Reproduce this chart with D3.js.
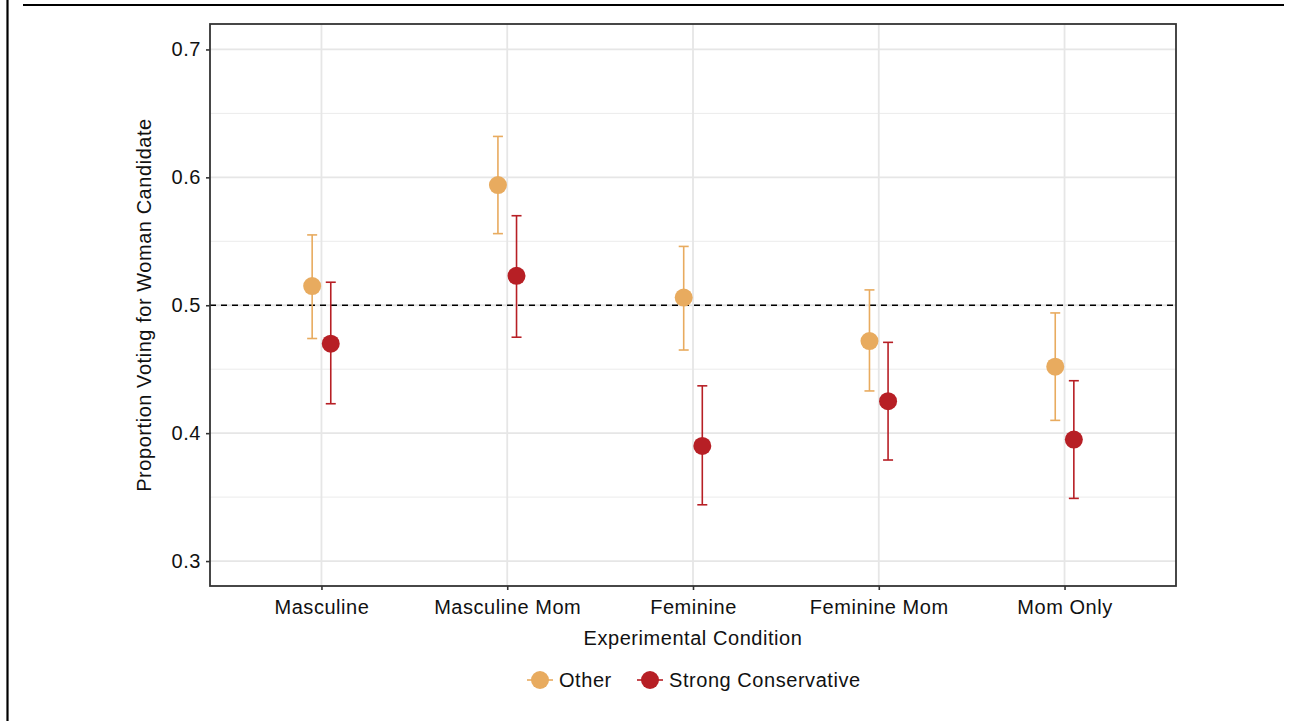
<!DOCTYPE html>
<html>
<head>
<meta charset="utf-8">
<script src="https://cdn.jsdelivr.net/npm/d3@7"></script>
<style>
  html, body { margin: 0; padding: 0; background: #fff; }
  svg { display: block; font-family: "Liberation Sans", Arial, Helvetica, sans-serif; }
  .lbl { font-size: 20px; letter-spacing: 0.55px; fill: #111; }
</style>
</head>
<body>
<svg id="chart" width="1297" height="721"></svg>
<script>
// Experimental conditions shown on the x axis
const conditions = ["Masculine", "Masculine Mom", "Feminine", "Feminine Mom", "Mom Only"];
const groups = ["Other", "Strong Conservative"];

// Proportion voting for the woman candidate, with 95% interval bounds
const otherEst   = [0.515, 0.594, 0.506, 0.472, 0.452];
const otherLow   = [0.474, 0.556, 0.465, 0.433, 0.410];
const otherHigh  = [0.555, 0.632, 0.546, 0.512, 0.494];
const consEst    = [0.470, 0.523, 0.390, 0.425, 0.395];
const consLow    = [0.423, 0.475, 0.344, 0.379, 0.349];
const consHigh   = [0.518, 0.570, 0.437, 0.471, 0.441];

const yTicks = [0.3, 0.4, 0.5, 0.6, 0.7];
const yMinor = [0.35, 0.45, 0.55, 0.65];
const refLine = 0.5;

const colors = { "Other": "#E8AB5F", "Strong Conservative": "#B71F25" };

const rows = [];
conditions.forEach((c, i) => {
  rows.push({ cond: c, group: "Other", est: otherEst[i], lo: otherLow[i], hi: otherHigh[i] });
  rows.push({ cond: c, group: "Strong Conservative", est: consEst[i], lo: consLow[i], hi: consHigh[i] });
});

const svg = d3.select("#chart");

// Outer frame lines
svg.append("line").attr("x1", 23).attr("x2", 1284).attr("y1", 5).attr("y2", 5)
  .attr("stroke", "#000").attr("stroke-width", 2.2);
svg.append("line").attr("x1", 7.5).attr("x2", 7.5).attr("y1", 0).attr("y2", 721)
  .attr("stroke", "#000").attr("stroke-width", 2.2);

const panel = { left: 210, top: 24, right: 1176, bottom: 586 };

// Discrete x scale with ggplot-style 0.6 padding on each side
const x = d3.scalePoint().domain(conditions)
  .range([panel.left, panel.right]).padding(0.6);
const y = d3.scaleLinear().domain([0.2805, 0.7199]).range([panel.bottom, panel.top]);
const dodge = d3.scalePoint().domain(groups).range([-9.3, 9.3]);

const g = svg.append("g");

// Grid
g.selectAll(".minor").data(yMinor).join("line")
  .attr("x1", panel.left).attr("x2", panel.right)
  .attr("y1", d => y(d)).attr("y2", d => y(d))
  .attr("stroke", "#ebebeb").attr("stroke-width", 1);
g.selectAll(".major").data(yTicks).join("line")
  .attr("x1", panel.left).attr("x2", panel.right)
  .attr("y1", d => y(d)).attr("y2", d => y(d))
  .attr("stroke", "#e6e6e6").attr("stroke-width", 1.8);
g.selectAll(".vgrid").data(conditions).join("line")
  .attr("x1", d => x(d)).attr("x2", d => x(d))
  .attr("y1", panel.top).attr("y2", panel.bottom)
  .attr("stroke", "#e6e6e6").attr("stroke-width", 1.8);

// Reference line at one half
g.append("line")
  .attr("x1", panel.left).attr("x2", panel.right)
  .attr("y1", y(refLine)).attr("y2", y(refLine))
  .attr("stroke", "#000").attr("stroke-width", 1.6)
  .attr("stroke-dasharray", "6,5");

// Error bars
const cap = 5;
const eb = g.selectAll(".eb").data(rows).join("g")
  .attr("stroke", d => colors[d.group]).attr("stroke-width", 1.6);
eb.append("line")
  .attr("x1", d => x(d.cond) + dodge(d.group)).attr("x2", d => x(d.cond) + dodge(d.group))
  .attr("y1", d => y(d.lo)).attr("y2", d => y(d.hi));
eb.append("line")
  .attr("x1", d => x(d.cond) + dodge(d.group) - cap).attr("x2", d => x(d.cond) + dodge(d.group) + cap)
  .attr("y1", d => y(d.lo)).attr("y2", d => y(d.lo));
eb.append("line")
  .attr("x1", d => x(d.cond) + dodge(d.group) - cap).attr("x2", d => x(d.cond) + dodge(d.group) + cap)
  .attr("y1", d => y(d.hi)).attr("y2", d => y(d.hi));

// Points
g.selectAll(".pt").data(rows).join("circle")
  .attr("cx", d => x(d.cond) + dodge(d.group))
  .attr("cy", d => y(d.est))
  .attr("r", 9)
  .attr("fill", d => colors[d.group]);

// Panel border
svg.append("rect")
  .attr("x", panel.left).attr("y", panel.top)
  .attr("width", panel.right - panel.left).attr("height", panel.bottom - panel.top)
  .attr("fill", "none").attr("stroke", "#333").attr("stroke-width", 1.8);

// Axes
const yAxis = svg.append("g").attr("transform", `translate(${panel.left},0)`)
  .call(d3.axisLeft(y).tickValues(yTicks).tickFormat(d3.format(".1f")).tickSize(4).tickPadding(5));
const xAxis = svg.append("g").attr("transform", `translate(0,${panel.bottom})`)
  .call(d3.axisBottom(x).tickSize(4).tickPadding(6));
[yAxis, xAxis].forEach(a => {
  a.select(".domain").remove();
  a.selectAll(".tick line").attr("stroke", "#333").attr("stroke-width", 1.6);
  a.selectAll(".tick text").attr("class", "lbl").attr("fill", null)
    .style("font-family", "'Liberation Sans', Arial, sans-serif");
});
xAxis.selectAll(".tick text").attr("dy", "0.9em");

// Axis titles
svg.append("text").attr("class", "lbl")
  .attr("x", (panel.left + panel.right) / 2).attr("y", 645)
  .attr("text-anchor", "middle")
  .text("Experimental Condition");
svg.append("text").attr("class", "lbl")
  .attr("transform", `translate(151,${(panel.top + panel.bottom) / 2}) rotate(-90)`)
  .attr("text-anchor", "middle")
  .text("Proportion Voting for Woman Candidate");

// Legend
const legendItems = [
  { key: "Other", x: 540 },
  { key: "Strong Conservative", x: 650 }
];
const lg = svg.append("g").attr("transform", "translate(0,680)");
const li = lg.selectAll("g").data(legendItems).join("g")
  .attr("transform", d => `translate(${d.x},0)`);
li.append("line").attr("x1", -13).attr("x2", 13).attr("y1", 0).attr("y2", 0)
  .attr("stroke", d => colors[d.key]).attr("stroke-width", 1.6);
li.append("circle").attr("r", 9).attr("fill", d => colors[d.key]);
li.append("text").attr("class", "lbl").attr("x", 19).attr("y", 0).attr("dy", "0.36em")
  .text(d => d.key);
</script>
</body>
</html>
